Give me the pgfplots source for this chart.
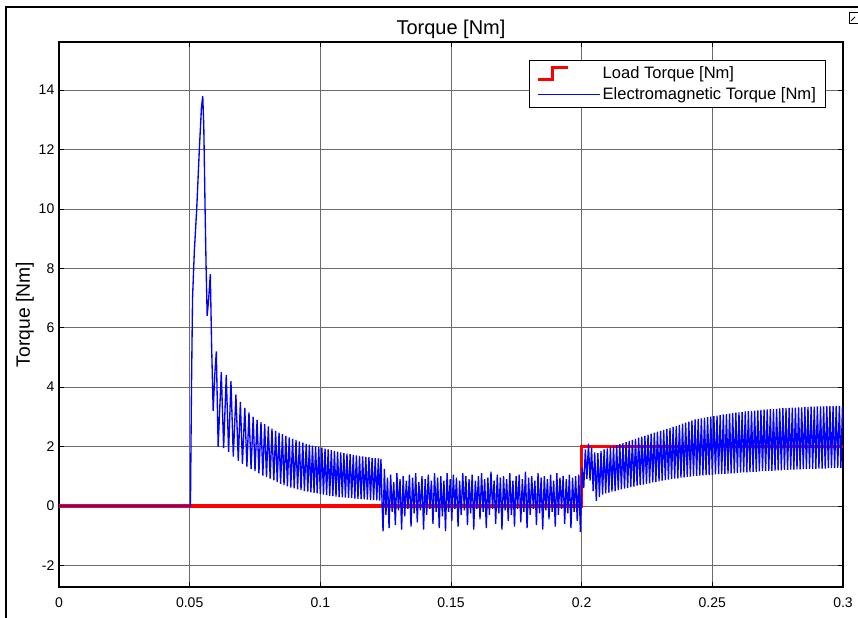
\documentclass[border=0pt]{standalone}
\usepackage{pgfplots}
\pgfplotsset{compat=1.18}
\usepackage{fontspec}
\setmainfont{Liberation Sans}
\begin{document}
\begin{tikzpicture}
\useasboundingbox (0pt,0pt) rectangle (643.5pt,463.5pt);
\draw[line width=1.4pt] (4.5pt,-4pt) -- (4.5pt,458.25pt) -- (660pt,458.25pt);
\draw[line width=0.6pt] (637.1pt,454.5pt) rectangle (646pt,446.25pt);
\draw[line width=0.6pt] (638.25pt,447.75pt) -- (641.25pt,450.75pt);
\begin{axis}[
  at={(44.25pt,23.25pt)}, anchor=south west,
  scale only axis, width=588pt, height=408.75pt,
  xmin=0, xmax=0.3, ymin=-2.73, ymax=15.62,
  xtick={0,0.05,0.1,0.15,0.2,0.25,0.3},
  xticklabels={0,0.05,0.1,0.15,0.2,0.25,0.3},
  ytick={-2,0,2,4,6,8,10,12,14},
  yticklabels={-2,0,2,4,6,8,10,12,14},
  tick align=inside, tick pos=both,
  major tick length=4pt,
  grid=major,
  major grid style={black!58, line width=0.5pt},
  axis line style={line width=0.9pt},
  every tick/.style={black, line width=0.6pt},
  tick label style={font=\fontsize{10.5}{12}\selectfont},
  xticklabel style={yshift=-4.5pt},
  title={Torque [Nm]},
  title style={font=\fontsize{15}{18}\selectfont, at={(axis description cs:0.5,1.0275)}, anchor=center, yshift=-7.5pt},
  ylabel={Torque [Nm]},
  ylabel style={font=\fontsize{14.5}{17}\selectfont, at={(axis description cs:-0.0434,0.5)}, anchor=center},
  legend style={at={(0.978,0.967)}, anchor=north east, draw=black, line width=0.8pt,
    font=\fontsize{12.4}{14}\selectfont, cells={anchor=west}, inner xsep=5pt, inner ysep=2.5pt, row sep=1.5pt},
]
\addplot[red, line width=2.4pt,
  legend image code/.code={\draw[red, line width=2.4pt] (0pt,-4.5pt) -- (11.25pt,-4.5pt) -- (11.25pt,4.5pt) -- (22.5pt,4.5pt);}]
  coordinates {(0,0) (0.2,0) (0.2,2) (0.3,2)};
\addlegendentry{Load Torque [Nm]}
\addplot[blue, line width=1.0pt,
  legend image code/.code={\draw[blue, line width=0.75pt] (0pt,0pt) -- (46.5pt,0pt);}]
  coordinates {
(0,0) (0.0503,0) (0.0507,4.0) (0.0511,7.0) (0.0518,8.6) (0.0527,10.0) (0.0537,12.0) (0.0545,13.4) (0.0550,13.8) (0.0554,12.8) (0.0559,10.0) (0.0563,8.0) (0.0567,6.4) (0.0573,7.0) (0.0579,7.8) (0.0584,5.4) (0.0590,3.2) (0.0596,4.4) (0.0602,5.2) (0.0609,2.0) (0.0621,4.5) (0.0630,1.95) (0.0640,4.4) (0.0649,1.82) (0.0658,4.2) (0.0667,1.66) (0.0677,3.75) (0.0686,1.52) (0.0694,3.5) (0.0702,1.42) (0.0711,3.3) (0.0719,1.32) (0.0727,3.15) (0.0735,1.24) (0.0743,3.0) (0.0750,1.17) (0.0758,2.9) (0.0765,1.1) (0.0773,2.82) (0.0780,1.02) (0.0787,2.75) (0.0794,0.97) (0.0801,2.68) (0.0808,0.92) (0.0815,2.6) (0.0822,0.86) (0.0829,2.53) (0.0835,0.8) (0.0842,2.47) (0.0848,0.74) (0.0855,2.42) (0.0861,0.7) (0.0868,2.36) (0.0874,0.66) (0.0881,2.31) (0.0887,0.62) (0.0894,2.26) (0.0900,0.59) (0.0907,2.22) (0.0913,0.56) (0.0920,2.17) (0.0926,0.53) (0.0933,2.13) (0.0939,0.5) (0.0946,2.09) (0.0952,0.48) (0.0958,2.06) (0.0964,0.46) (0.0970,2.03) (0.0976,0.44) (0.0982,2.0) (0.0988,0.42) (0.0994,1.98) (0.1000,0.4) (0.1006,1.96) (0.1012,0.38) (0.1018,1.93) (0.1024,0.36) (0.1030,1.9) (0.1036,0.34) (0.1042,1.88) (0.1048,0.33) (0.1054,1.85) (0.1060,0.31) (0.1066,1.83) (0.1072,0.3) (0.1078,1.8) (0.1084,0.29) (0.1090,1.78) (0.1096,0.28) (0.1102,1.76) (0.1108,0.27) (0.1114,1.74) (0.1120,0.26) (0.1126,1.72) (0.1132,0.25) (0.1138,1.7) (0.1144,0.24) (0.1150,1.68) (0.1156,0.23) (0.1162,1.67) (0.1168,0.22) (0.1174,1.65) (0.1180,0.21) (0.1186,1.64) (0.1192,0.2) (0.1198,1.62) (0.1204,0.2) (0.1210,1.61) (0.1216,0.19) (0.1222,1.6) (0.1227,0.18) (0.1232,1.58) (0.1236,0.15) (0.1240,-0.86)
(0.1245,1.25) (0.1251,-0.3) (0.1257,0.95) (0.1263,-0.75) (0.1269,1.05) (0.1275,-0.2) (0.1281,0.8) (0.1287,-0.65) (0.1293,1.1) (0.1299,-0.15) (0.1305,0.9) (0.1311,-0.8) (0.1317,1.0) (0.1323,-0.35) (0.1329,0.85) (0.1335,-0.1) (0.1341,1.05) (0.1347,-0.7) (0.1353,0.95) (0.1359,-0.25) (0.1365,1.1) (0.1371,-0.55) (0.1377,0.8) (0.1383,-0.15) (0.1389,1.0) (0.1395,-0.8) (0.1401,0.9) (0.1407,-0.3) (0.1413,1.05) (0.1419,-0.1) (0.1425,0.85) (0.1431,-0.6) (0.1437,1.1) (0.1443,-0.2) (0.1449,0.95) (0.1455,-0.75) (0.1461,1.0) (0.1467,-0.35) (0.1473,0.85) (0.1479,-0.85) (0.1485,1.1) (0.1491,-0.2) (0.1497,0.9) (0.1503,-0.5) (0.1509,1.05) (0.1515,-0.1) (0.1521,0.95) (0.1527,-0.7) (0.1533,0.85) (0.1539,-0.3) (0.1545,1.1) (0.1551,-0.15) (0.1557,1.0) (0.1563,-0.65) (0.1569,0.9) (0.1575,-0.25) (0.1581,1.05) (0.1587,-0.8) (0.1593,0.85) (0.1599,-0.1) (0.1605,1.0) (0.1611,-0.45) (0.1617,1.1) (0.1623,-0.2) (0.1629,0.9) (0.1635,-0.75) (0.1641,0.95) (0.1647,-0.3) (0.1653,1.15) (0.1659,-0.1) (0.1665,0.85) (0.1671,-0.6) (0.1677,1.05) (0.1683,-0.25) (0.1689,0.95) (0.1695,-0.8) (0.1701,1.0) (0.1707,-0.15) (0.1713,0.9) (0.1719,-0.5) (0.1725,1.1) (0.1731,-0.3) (0.1737,0.85) (0.1743,-0.7) (0.1749,1.0) (0.1755,-0.1) (0.1761,1.05) (0.1767,-0.55) (0.1773,0.9) (0.1779,-0.2) (0.1785,1.15) (0.1791,-0.75) (0.1797,0.95) (0.1803,-0.3) (0.1809,1.0) (0.1815,-0.1) (0.1821,0.85) (0.1827,-0.65) (0.1833,1.1) (0.1839,-0.25) (0.1845,0.95) (0.1851,-0.8) (0.1857,1.0) (0.1863,-0.15) (0.1869,0.9) (0.1875,-0.45) (0.1881,1.05) (0.1887,-0.2) (0.1893,0.85) (0.1899,-0.7) (0.1905,1.1) (0.1911,-0.3) (0.1917,0.95) (0.1923,-0.1) (0.1929,1.0) (0.1935,-0.6) (0.1941,0.9) (0.1947,-0.25) (0.1953,1.05) (0.1959,-0.75) (0.1965,0.95) (0.1971,-0.2) (0.1977,1.0) (0.1983,-0.5) (0.1989,1.05) (0.1995,-0.87)
(0.2002,1.3) (0.2008,0.6) (0.2014,1.9) (0.2020,0.9) (0.2026,2.1) (0.2032,0.85) (0.2038,1.95) (0.2044,0.5) (0.2050,1.8) (0.2056,0.17) (0.2062,1.78) (0.2068,0.3) (0.2074,1.85) (0.2080,0.38)
(0.2086,1.90) (0.2092,0.42) (0.2098,1.94) (0.2104,0.45) (0.2110,1.97) (0.2116,0.48) (0.2122,2.00) (0.2128,0.50) (0.2134,2.04) (0.2140,0.53) (0.2146,2.08) (0.2152,0.56) (0.2158,2.11) (0.2164,0.58) (0.2170,2.15) (0.2176,0.60) (0.2182,2.19) (0.2188,0.63) (0.2194,2.22) (0.2200,0.65) (0.2206,2.26) (0.2212,0.68) (0.2218,2.30) (0.2224,0.70) (0.2230,2.33) (0.2236,0.72) (0.2242,2.36) (0.2248,0.74) (0.2254,2.40) (0.2260,0.76) (0.2266,2.43) (0.2272,0.79) (0.2278,2.47) (0.2284,0.81) (0.2290,2.50) (0.2296,0.83) (0.2302,2.53) (0.2308,0.85) (0.2314,2.56) (0.2320,0.87) (0.2326,2.59) (0.2332,0.89) (0.2338,2.62) (0.2344,0.90) (0.2350,2.66) (0.2356,0.92) (0.2362,2.69) (0.2368,0.93) (0.2374,2.73) (0.2380,0.95) (0.2386,2.77) (0.2392,0.96) (0.2398,2.80) (0.2404,0.98) (0.2410,2.84) (0.2416,0.99) (0.2422,2.88) (0.2428,1.00) (0.2434,2.91) (0.2440,1.01) (0.2446,2.93) (0.2452,1.02) (0.2458,2.95) (0.2464,1.03) (0.2470,2.97) (0.2476,1.04) (0.2482,2.99) (0.2488,1.04) (0.2494,3.01) (0.2500,1.05)
(0.2506,3.02) (0.2512,1.06) (0.2518,3.04) (0.2524,1.07) (0.2530,3.06) (0.2536,1.07) (0.2542,3.08) (0.2548,1.08) (0.2554,3.09) (0.2560,1.09) (0.2566,3.11) (0.2572,1.10) (0.2578,3.12) (0.2584,1.10) (0.2590,3.14) (0.2596,1.11) (0.2602,3.15) (0.2608,1.12) (0.2614,3.16) (0.2620,1.13) (0.2626,3.18) (0.2632,1.13) (0.2638,3.19) (0.2644,1.14) (0.2650,3.20) (0.2656,1.15) (0.2662,3.21) (0.2668,1.15) (0.2674,3.22) (0.2680,1.16) (0.2686,3.23) (0.2692,1.17) (0.2698,3.24) (0.2704,1.17) (0.2710,3.25) (0.2716,1.18) (0.2722,3.26) (0.2728,1.18) (0.2734,3.27) (0.2740,1.19) (0.2746,3.27) (0.2752,1.20) (0.2758,3.28) (0.2764,1.20) (0.2770,3.29) (0.2776,1.21) (0.2782,3.29) (0.2788,1.21) (0.2794,3.30) (0.2800,1.22) (0.2806,3.31) (0.2812,1.22) (0.2818,3.31) (0.2824,1.23) (0.2830,3.32) (0.2836,1.23) (0.2842,3.32) (0.2848,1.24) (0.2854,3.33) (0.2860,1.24) (0.2866,3.33) (0.2872,1.25) (0.2878,3.34) (0.2884,1.25) (0.2890,3.34) (0.2896,1.25) (0.2902,3.35) (0.2908,1.26) (0.2914,3.35) (0.2920,1.26) (0.2926,3.35) (0.2932,1.26) (0.2938,3.36) (0.2944,1.27) (0.2950,3.36) (0.2956,1.27) (0.2962,3.36) (0.2968,1.27) (0.2974,3.37) (0.2980,1.28) (0.2986,3.37) (0.2992,1.28) (0.2998,3.37)
  };
\addlegendentry{Electromagnetic Torque [Nm]}
\end{axis}
\end{tikzpicture}
\end{document}
